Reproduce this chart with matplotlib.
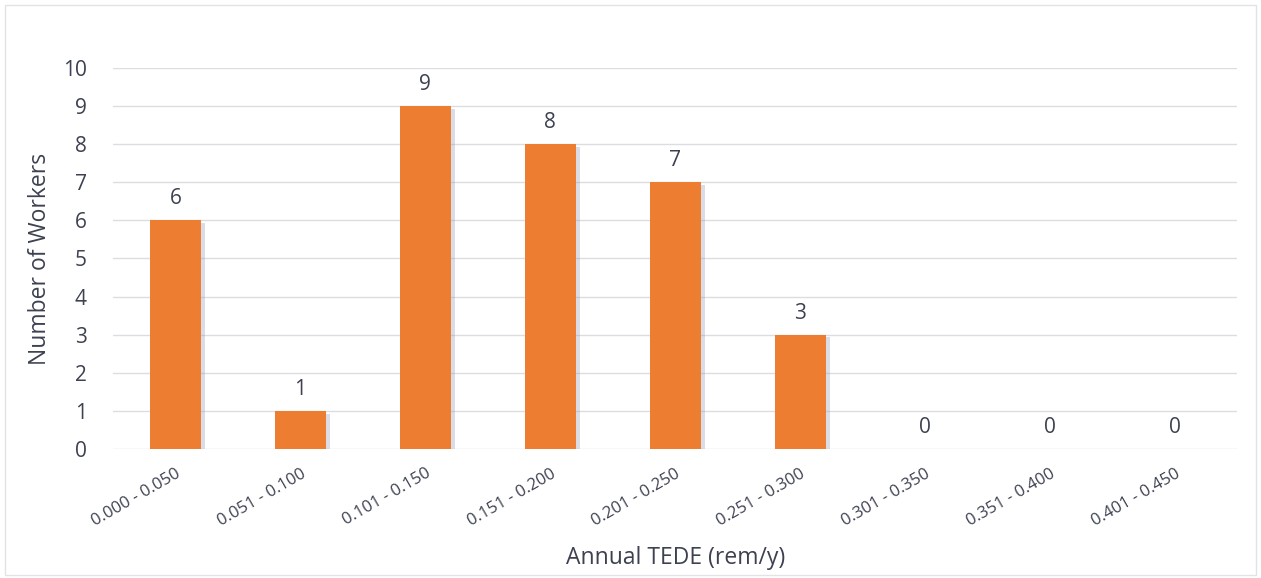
import matplotlib
matplotlib.use("Agg")
import matplotlib.pyplot as plt
import matplotlib.patheffects as pe
from matplotlib.patches import Rectangle
import numpy as np

# Dose bins and worker counts
dose_bins = ["0.000 - 0.050", "0.051 - 0.100", "0.101 - 0.150", "0.151 - 0.200",
             "0.201 - 0.250", "0.251 - 0.300", "0.301 - 0.350", "0.351 - 0.400",
             "0.401 - 0.450"]
workers = [6, 1, 9, 8, 7, 3, 0, 0, 0]
y_ticks = list(range(0, 11))

BAR_COLOR = "#ED7D31"
TEXT_COLOR = "#3d4150"
GRID_COLOR = "#dcdde3"

plt.rcParams["font.family"] = ["Open Sans", "DejaVu Sans"]

fig = plt.figure(figsize=(12.61, 5.78), dpi=100)
ax = fig.add_axes([0.0896, 0.2232, 0.8917, 0.6592])

# light frame around the whole chart area
fig.patches.append(Rectangle((0.004, 0.006), 0.992, 0.985, transform=fig.transFigure,
                             fill=False, edgecolor="#e2e3e8", linewidth=1.0))

x = np.arange(len(dose_bins))
bars = ax.bar(x, workers, width=0.41, color=BAR_COLOR, zorder=3)
for b in bars:
    b.set_path_effects([pe.SimplePatchShadow(offset=(3, -2), shadow_rgbFace="#8a90ad", alpha=0.3),
                        pe.Normal()])

for xi, v in zip(x, workers):
    ax.annotate(str(v), (xi, v), xytext=(0, 8), textcoords="offset points",
                ha="center", va="bottom", fontsize=15, color=TEXT_COLOR)

ax.set_xlim(-0.5, len(dose_bins) - 0.5)
ax.set_ylim(0, 10)
ax.set_yticks(y_ticks)
ax.set_yticklabels([str(t) for t in y_ticks])
ax.yaxis.grid(True, color=GRID_COLOR, linewidth=1.0, zorder=0)
ax.set_axisbelow(True)

ax.set_xticks(x)
ax.set_xticklabels(dose_bins, rotation=30, ha="right", va="top", rotation_mode="anchor")

ax.tick_params(axis="y", length=0, pad=19, labelsize=15, labelcolor=TEXT_COLOR)
ax.tick_params(axis="x", length=0, pad=12, labelsize=12, labelcolor=TEXT_COLOR)
for s in ax.spines.values():
    s.set_visible(False)

ax.set_ylabel("Number of Workers", fontsize=16.5, color=TEXT_COLOR, labelpad=8)
ax.set_xlabel("Annual TEDE (rem/y)", fontsize=16.5, color=TEXT_COLOR, labelpad=12)

fig.savefig("out.png", dpi=100)
